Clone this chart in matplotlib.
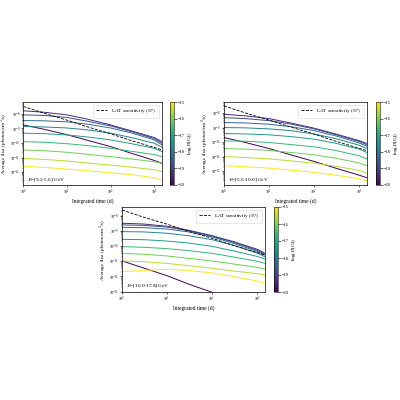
import numpy as np
import matplotlib
matplotlib.use('Agg')
import matplotlib.pyplot as plt
from matplotlib import cm, colors

plt.rcParams['font.family'] = 'serif'
plt.rcParams['font.serif'] = ['Liberation Serif', 'DejaVu Serif']
plt.rcParams['mathtext.fontset'] = 'cm'

# integrated time grid (days)
t_days = [1, 3, 10, 30, 100, 300, 1000, 1500]
logB = [-20, -19.44, -18.89, -18.33, -17.78, -17.22, -16.67, -16.11, -15.56, -15]

# log10 of average flux (photon/cm2/s), one row per logB value
flux_E1 = [
    [-8.76, -9.06, -9.43, -9.82, -10.25, -10.71, -11.20, -11.40],
    [-7.79, -7.89, -8.07, -8.37, -8.76, -9.17, -9.63, -9.91],
    [-8.07, -8.11, -8.25, -8.51, -8.83, -9.22, -9.70, -10.02],
    [-8.46, -8.48, -8.55, -8.71, -8.97, -9.31, -9.79, -10.14],
    [-8.87, -8.90, -8.97, -9.10, -9.33, -9.63, -10.02, -10.30],
    [-9.33, -9.36, -9.45, -9.59, -9.79, -10.05, -10.37, -10.60],
    [-9.91, -9.95, -10.05, -10.18, -10.37, -10.57, -10.80, -10.94],
    [-10.48, -10.53, -10.64, -10.78, -10.94, -11.10, -11.29, -11.40],
    [-11.06, -11.13, -11.24, -11.38, -11.52, -11.66, -11.84, -11.98],
    [-11.59, -11.68, -11.79, -11.91, -12.05, -12.18, -12.39, -12.55],
]
flux_E2 = [
    [-9.68, -10.02, -10.44, -10.87, -11.33, -11.79, -12.28, -12.46],
    [-8.07, -8.18, -8.37, -8.67, -9.03, -9.43, -9.89, -10.09],
    [-8.30, -8.37, -8.51, -8.74, -9.08, -9.47, -9.95, -10.18],
    [-8.64, -8.67, -8.76, -8.92, -9.20, -9.56, -10.05, -10.28],
    [-8.99, -9.01, -9.08, -9.20, -9.43, -9.75, -10.21, -10.44],
    [-9.40, -9.43, -9.49, -9.61, -9.79, -10.07, -10.48, -10.71],
    [-9.91, -9.93, -10.02, -10.16, -10.32, -10.57, -10.94, -11.17],
    [-10.44, -10.48, -10.57, -10.71, -10.87, -11.10, -11.43, -11.63],
    [-10.99, -11.06, -11.15, -11.29, -11.45, -11.66, -11.95, -12.14],
    [-11.63, -11.70, -11.79, -11.93, -12.09, -12.28, -12.53, -12.67],
]
flux_E3 = [
    [-10.98, -11.44, -11.95, -12.50, -13.04, -13.59, -14.14, -14.32],
    [-8.50, -8.55, -8.70, -8.96, -9.32, -9.71, -10.21, -10.48],
    [-8.61, -8.64, -8.75, -8.99, -9.34, -9.75, -10.28, -10.54],
    [-8.77, -8.79, -8.88, -9.07, -9.40, -9.82, -10.35, -10.59],
    [-9.05, -9.07, -9.16, -9.32, -9.58, -9.95, -10.46, -10.70],
    [-9.56, -9.58, -9.67, -9.80, -10.02, -10.32, -10.68, -10.85],
    [-10.04, -10.08, -10.17, -10.30, -10.48, -10.72, -11.00, -11.14],
    [-10.48, -10.54, -10.65, -10.81, -10.98, -11.18, -11.40, -11.51],
    [-10.98, -11.03, -11.14, -11.29, -11.46, -11.64, -11.82, -11.90],
    [-11.68, -11.60, -11.53, -11.60, -11.77, -12.01, -12.30, -12.45],
]
sens_E1 = [-7.49, -7.96, -8.43, -8.90, -9.37, -9.84, -10.31, -10.48]
sens_E2 = [-7.49, -7.98, -8.47, -8.95, -9.44, -9.93, -10.42, -10.59]
sens_E3 = [-7.63, -8.10, -8.56, -9.03, -9.49, -9.96, -10.43, -10.59]

labels = ['$E$=[3.2-5.6] GeV', '$E$=[5.6-10.0] GeV', '$E$=[10.0-17.8] GeV']
ylims = [(1.3e-13, 6.5e-8), (1.1e-13, 6e-8), (9.5e-14, 3.7e-8)]

# axes / colorbar positions [left, bottom, width, height]
ax_pos = [[0.058, 0.5375, 0.347, 0.2075],
          [0.56, 0.5375, 0.3575, 0.2075],
          [0.305, 0.27, 0.3575, 0.2125]]
cb_pos = [[0.425, 0.5375, 0.01, 0.2075],
          [0.94, 0.5375, 0.01, 0.2075],
          [0.685, 0.27, 0.01, 0.2125]]

norm = colors.Normalize(vmin=-20, vmax=-15)
cmap = plt.get_cmap('viridis')

fig = plt.figure(figsize=(4, 4), dpi=100)

for k, (flux, sens) in enumerate(zip([flux_E1, flux_E2, flux_E3], [sens_E1, sens_E2, sens_E3])):
    ax = fig.add_axes(ax_pos[k])
    for b, row in zip(logB, flux):
        ax.plot(t_days, 10**np.array(row), color=cmap(norm(b)), lw=0.7)
    ax.plot(t_days, 10**np.array(sens), 'k--', lw=0.6, label=r'LAT sensitivity (5$\sigma$)')
    ax.set_xscale('log')
    ax.set_yscale('log')
    ax.set_xlim(1, 1500)
    ax.set_ylim(*ylims[k])
    ax.set_xlabel('Integrated time (d)', fontsize=4, labelpad=0.5)
    ax.set_ylabel('Average flux (photon/cm$^2$/s)', fontsize=3.8)
    ax.yaxis.set_label_coords(-0.1, 0.5)
    ax.tick_params(labelsize=2.8, width=0.4, length=1.6, pad=0.5)
    ax.tick_params(which='minor', width=0.3, length=1)
    for s in ax.spines.values():
        s.set_linewidth(0.5)
    ax.text(0.03, 0.06, labels[k], transform=ax.transAxes, fontsize=3.8)
    leg = ax.legend(loc='upper right', fontsize=3.8, handlelength=2.2, borderpad=0.5)
    leg.get_frame().set_linewidth(0.4)

    cax = fig.add_axes(cb_pos[k])
    cb = fig.colorbar(cm.ScalarMappable(norm=norm, cmap=cmap), cax=cax)
    cb.set_ticks([-20, -19, -18, -17, -16, -15])
    cb.ax.tick_params(labelsize=3.2, width=0.4, length=1.8, pad=0.8)
    cb.outline.set_linewidth(0.4)
    cb.set_label('log($B$[G])', fontsize=3.8, labelpad=1)

plt.savefig('out.png', dpi=100)
